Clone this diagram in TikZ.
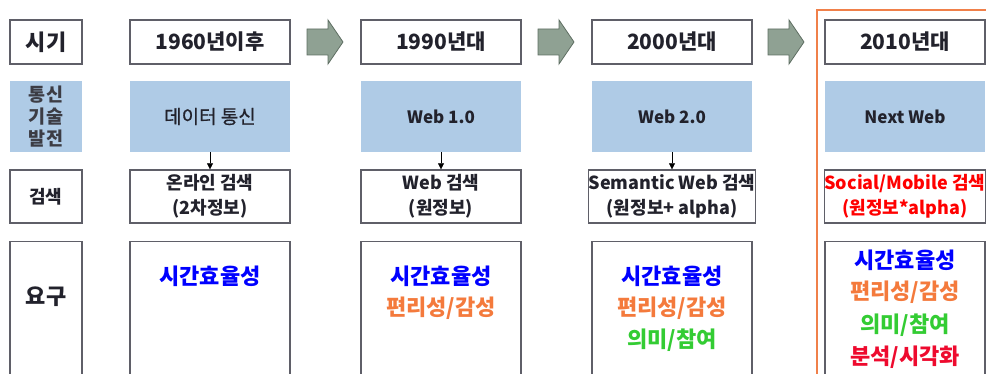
\documentclass[tikz,border=0pt]{standalone}
\usepackage{fontspec}
\setmainfont{Noto Sans CJK KR}
\usetikzlibrary{arrows.meta}
\definecolor{boxline}{HTML}{5F5F68}
\definecolor{bluefill}{HTML}{AFCBE6}
\definecolor{arrfill}{HTML}{8FA193}
\definecolor{arrline}{HTML}{5E6E62}
\definecolor{frameor}{HTML}{F0804A}
\definecolor{txtdark}{HTML}{22222C}
\definecolor{txtgray}{HTML}{3C3C44}
\definecolor{txtblue}{HTML}{0000FF}
\definecolor{txtorange}{HTML}{F47A3C}
\definecolor{txtgreen}{HTML}{33CC33}
\definecolor{txtred}{HTML}{FF0000}
\definecolor{txtcrimson}{HTML}{EE0A2E}
\tikzset{
  wbox/.style={draw=boxline, line width=1.3pt, fill=white, inner sep=0pt, minimum width=160pt},
  lbox/.style={draw=boxline, line width=1.3pt, fill=white, inner sep=0pt, minimum width=72pt},
  bbox/.style={fill=bluefill, inner sep=0pt, minimum height=71pt},
  hdtxt/.style={font=\fontsize{21}{24}\selectfont\bfseries, text=txtdark},
  lbtxt/.style={font=\fontsize{22}{24}\selectfont\bfseries, text=txtdark},
  midtxt/.style={font=\fontsize{19}{22}\selectfont\addfontfeatures{FakeBold=0.6}, text=txtdark},
  webtxt/.style={font=\fontsize{17}{20}\selectfont\bfseries, text=txtdark},
  srtxt/.style={font=\fontsize{18}{25}\selectfont\bfseries, text=txtdark, align=center},
  rqtxt/.style={font=\fontsize{22}{25}\selectfont\bfseries},
  blockarr/.style={fill=arrfill, draw=arrline, line width=0.8pt},
  downarr/.style={draw=black, line width=0.6pt, -{Triangle[width=6pt,length=6pt]}}
}
\begin{document}
\begin{tikzpicture}[x=1pt,y=-1pt]
\useasboundingbox (0,0) rectangle (986,374);
\clip (0,0) rectangle (986,374);
% orange frame
\draw[frameor, line width=1.6pt] (817,420) -- (817,10) -- (1010,10);
% row 1
\node[lbox, minimum height=44pt, lbtxt] (t0) at (46,42) {시기};
\node[wbox, minimum height=44pt, hdtxt] (t1) at (210,42) {1960년이후};
\node[wbox, minimum height=44pt, hdtxt] (t2) at (441,42) {1990년대};
\node[wbox, minimum height=44pt, hdtxt] (t3) at (672,42) {2000년대};
\node[wbox, minimum height=44pt, hdtxt] (t4) at (905,42) {2010년대};
% block arrows
\foreach \xa in {307,538,768}{
  \draw[blockarr] (\xa,29) -- (\xa+21,29) -- (\xa+21,20) -- (\xa+36,42) -- (\xa+21,64) -- (\xa+21,55) -- (\xa,55) -- cycle;
}
% row 2
\node[bbox, minimum width=72pt, align=center, font=\fontsize{18.5}{22}\selectfont\bfseries, text=txtgray] (b0) at (46,116.5) {통신\\기술\\발전};
\node[bbox, minimum width=160pt, midtxt] (b1) at (210,116.5) {데이터 통신};
\node[bbox, minimum width=160pt, webtxt] (b2) at (441,116.5) {Web 1.0};
\node[bbox, minimum width=160pt, webtxt] (b3) at (672,116.5) {Web 2.0};
\node[bbox, minimum width=160pt, webtxt] (b4) at (905,116.5) {Next Web};
% row 3
\node[lbox, minimum height=53pt, srtxt] (s0) at (46,196.5) {검색};
\node[wbox, minimum height=53pt, srtxt] (s1) at (210,196.5) {온라인 검색\\(2차정보)};
\node[wbox, minimum height=53pt, srtxt] (s2) at (441,196.5) {Web 검색\\(원정보)};
\node[wbox, minimum height=53pt, srtxt] (s3) at (672,196.5) {Semantic Web 검색\\(원정보+ alpha)};
\node[wbox, minimum height=53pt, srtxt, text=txtred] (s4) at (905,196.5) {Social/Mobile 검색\\(원정보*alpha)};
% small arrows
\draw[downarr] (b1.south) -- (s1.north);
\draw[downarr] (b2.south) -- (s2.north);
\draw[downarr] (b3.south) -- (s3.north);
% row 4
\node[lbox, minimum height=170pt, anchor=north] (r0) at (46,241) {};
\node[wbox, minimum height=170pt, anchor=north] (r1) at (210,241) {};
\node[wbox, minimum height=170pt, anchor=north] (r2) at (441,241) {};
\node[wbox, minimum height=170pt, anchor=north] (r3) at (672,241) {};
\node[wbox, minimum height=170pt, anchor=north] (r4) at (905,241) {};
\node[lbtxt] (q0) at (46,297) {요구};
\node[rqtxt, text=txtblue] (q1a) at (210,276) {시간효율성};
\node[rqtxt, text=txtblue] (q2a) at (441,276) {시간효율성};
\node[rqtxt, text=txtorange] (q2b) at (441,308) {편리성/감성};
\node[rqtxt, text=txtblue] (q3a) at (672,276) {시간효율성};
\node[rqtxt, text=txtorange] (q3b) at (672,308) {편리성/감성};
\node[rqtxt, text=txtgreen] (q3c) at (672,340) {의미/참여};
\node[rqtxt, text=txtblue] (q4a) at (905,260) {시간효율성};
\node[rqtxt, text=txtorange] (q4b) at (905,292) {편리성/감성};
\node[rqtxt, text=txtgreen] (q4c) at (905,325) {의미/참여};
\node[rqtxt, text=txtcrimson] (q4d) at (905,357) {분석/시각화};
\end{tikzpicture}
\end{document}
